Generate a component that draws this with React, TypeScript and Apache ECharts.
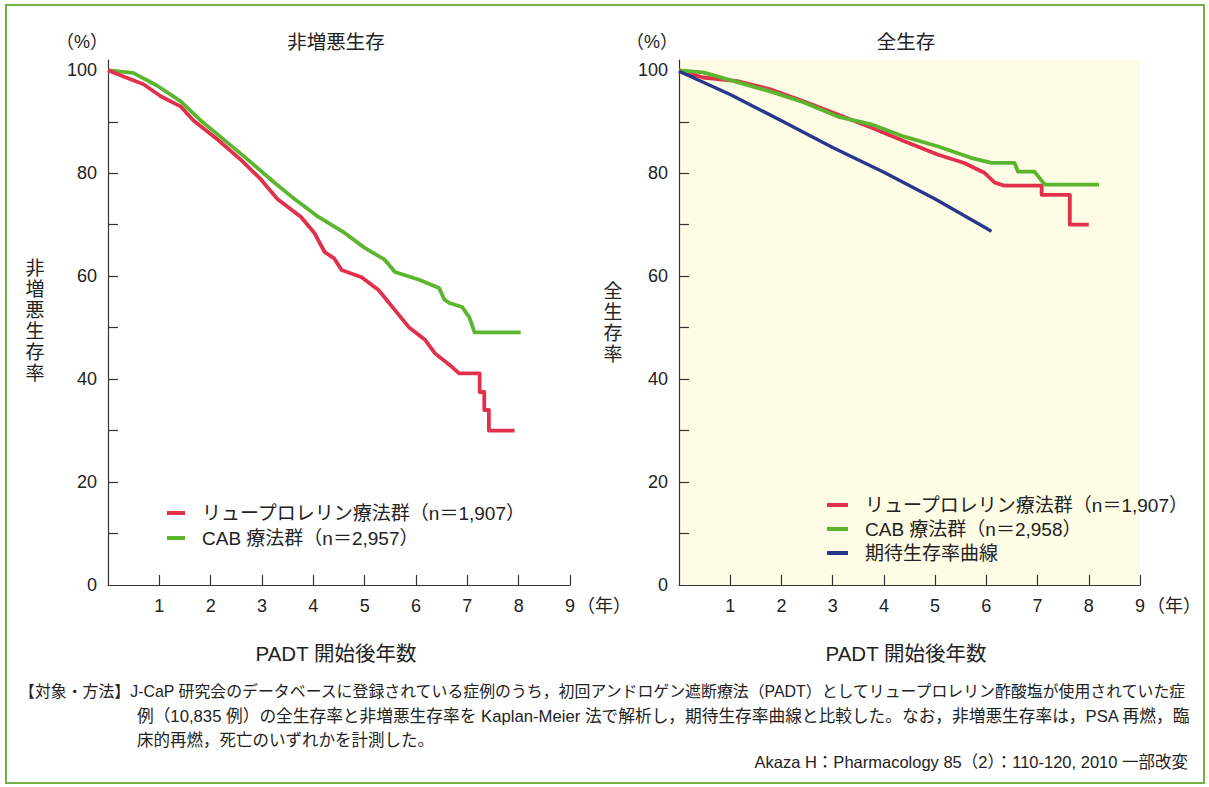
import React, { useEffect, useRef } from "react";
import * as echarts from "echarts";

// ---- data (years, %) ----
const xTicks = [1, 2, 3, 4, 5, 6, 7, 8, 9];
const yLabelValues = [0, 20, 40, 60, 80, 100];
const yTickValues = [10, 20, 30, 40, 50, 60, 70, 80, 90, 100];

const pfsLeuprorelin: [number, number][] = [
  [0, 100], [0.3, 98.8], [0.69, 97.3], [1.02, 95], [1.41, 93], [1.67, 90.2],
  [2.14, 86.5], [2.59, 82.6], [2.98, 78.8], [3.3, 75], [3.76, 71.5], [4.02, 68.4],
  [4.22, 64.7], [4.41, 63.4], [4.55, 61.2], [4.94, 59.8], [5.27, 57.3], [5.59, 53.4],
  [5.86, 50.1], [6.18, 47.6], [6.37, 45], [6.71, 42.3], [6.84, 41.1], [7.24, 41.1],
  [7.24, 37.5], [7.33, 37.5], [7.33, 34], [7.42, 34], [7.42, 30], [7.92, 30],
];
const pfsCab: [number, number][] = [
  [0, 100], [0.49, 99.5], [0.96, 97], [1.41, 94], [1.8, 90.3], [2.14, 87.5],
  [2.73, 82.6], [3.24, 78.2], [3.57, 75.5], [4.1, 71.5], [4.61, 68.4], [5.0, 65.5],
  [5.39, 63.2], [5.59, 60.8], [6.06, 59.3], [6.45, 57.7], [6.55, 55.5], [6.65, 54.8],
  [6.9, 54], [7.04, 52], [7.14, 49.1], [8.04, 49.1],
];
const osLeuprorelin: [number, number][] = [
  [0, 100], [0.47, 98.6], [1.14, 97.9], [1.78, 96.3], [2.43, 94], [3.1, 91.4],
  [3.75, 88.9], [4.4, 86.2], [5.06, 83.6], [5.57, 82], [5.96, 80.1], [6.16, 78.2],
  [6.35, 77.6], [7.08, 77.6], [7.08, 75.8], [7.63, 75.8], [7.63, 70], [8.0, 70],
];
const osCab: [number, number][] = [
  [0, 100], [0.47, 99.6], [1.14, 97.7], [1.78, 95.9], [2.43, 93.8], [3.1, 91],
  [3.75, 89.5], [4.4, 87.1], [5.06, 85.2], [5.7, 83], [6.1, 82], [6.55, 82],
  [6.62, 80.3], [6.94, 80.3], [7.14, 77.8], [8.2, 77.8],
];
const expectedSurvival: [number, number][] = [
  [0, 99.8], [1, 95.3], [2, 90.2], [3, 85], [4, 80.2], [5, 75], [6, 69.3], [6.1, 68.7],
];

const nameLeu = "リュープロレリン療法群（n＝1,907）";
const nameCabL = "CAB 療法群（n＝2,957）";
const nameCabR = "CAB 療法群（n＝2,958）";
const nameExp = "期待生存率曲線";

const RED = "#e1304b";
const GREEN = "#5bb52f";
const BLUE = "#27388c";
const FONT = '"Liberation Sans", "Noto Sans CJK JP", sans-serif';
const AX = "#333333";

function xAxisCfg(gridIndex: number) {
  return {
    type: "value",
    gridIndex,
    min: 0,
    max: 9,
    interval: 1,
    axisLine: { show: true, onZero: false, lineStyle: { color: AX, width: 1.2 } },
    axisTick: { show: true, inside: true, length: 10, customValues: xTicks, lineStyle: { color: AX, width: 1.2 } },
    axisLabel: { customValues: xTicks, margin: 12, fontSize: 18, color: "#222", fontFamily: FONT },
    splitLine: { show: false },
  };
}
function yAxisCfg(gridIndex: number) {
  return {
    type: "value",
    gridIndex,
    min: 0,
    max: 102,
    axisLine: { show: true, lineStyle: { color: AX, width: 1.2 } },
    axisTick: { show: true, inside: true, length: 10, customValues: yTickValues, lineStyle: { color: AX, width: 1.2 } },
    axisLabel: { customValues: yLabelValues, margin: 11, fontSize: 18, color: "#222", fontFamily: FONT },
    splitLine: { show: false },
  };
}
function line(name: string, data: [number, number][], color: string, idx: number, width = 3.8) {
  return {
    type: "line",
    name,
    data,
    xAxisIndex: idx,
    yAxisIndex: idx,
    showSymbol: false,
    symbol: "none",
    color,
    lineStyle: { color, width, join: "round" },
    z: color === BLUE ? 3 : 2,
  };
}
function txt(text: string, x: number, y: number, size: number, align = "center", extra: any = {}) {
  return {
    type: "text",
    x,
    y,
    style: { text, fontSize: size, fontFamily: FONT, fill: "#222", align, verticalAlign: "middle", ...extra },
  };
}

export default function App() {
  const ref = useRef<HTMLDivElement>(null);
  useEffect(() => {
    if (!ref.current) return;
    const chart = echarts.init(ref.current, undefined, { renderer: "svg" });
    const legendText = { fontSize: 19, fontFamily: FONT, color: "#222", padding: [0, 0, 0, 12], lineHeight: 20 };
    chart.setOption({
      animation: false,
      backgroundColor: "#ffffff",
      grid: [
        { left: 108, top: 60, width: 462, height: 525, containLabel: false },
        { left: 679, top: 60, width: 461, height: 525, containLabel: false, show: true, backgroundColor: "#fefce4", borderWidth: 0 },
      ],
      xAxis: [xAxisCfg(0), xAxisCfg(1)],
      yAxis: [yAxisCfg(0), yAxisCfg(1)],
      legend: [
        {
          data: [nameLeu, nameCabL],
          orient: "vertical",
          left: 162,
          top: 498,
          icon: "rect",
          itemWidth: 18,
          itemHeight: 4,
          itemGap: 5,
          selectedMode: false,
          textStyle: legendText,
        },
        {
          data: [nameLeu, nameCabR, nameExp],
          orient: "vertical",
          left: 822,
          top: 490,
          icon: "rect",
          itemWidth: 21,
          itemHeight: 4,
          itemGap: 4,
          selectedMode: false,
          textStyle: legendText,
        },
      ],
      series: [
        line(nameCabL, pfsCab, GREEN, 0),
        line(nameLeu, pfsLeuprorelin, RED, 0),
        line(nameLeu, osLeuprorelin, RED, 1),
        line(nameCabR, osCab, GREEN, 1),
        line(nameExp, expectedSurvival, BLUE, 1, 3.4),
      ],
      graphic: [
        { type: "rect", shape: { x: 6, y: 5, width: 1198, height: 778 }, style: { fill: "none", stroke: "#74b044", lineWidth: 2 }, silent: true },
        txt("（%）", 82, 42, 18),
        txt("（%）", 652, 42, 18),
        txt("非増悪生存", 336, 42, 19.5),
        txt("全生存", 906, 42, 19.5),
        txt("非\n増\n悪\n生\n存\n率", 35, 321, 19, "center", { lineHeight: 21 }),
        txt("全\n生\n存\n率", 613, 323, 19, "center", { lineHeight: 21 }),
        txt("（年）", 577, 606, 18, "left"),
        txt("（年）", 1147, 606, 18, "left"),
        txt("PADT 開始後年数", 336, 653, 20.5),
        txt("PADT 開始後年数", 906, 653, 20.5),
        txt("【対象・方法】J-CaP 研究会のデータベースに登録されている症例のうち，初回アンドロゲン遮断療法（PADT）としてリュープロレリン酢酸塩が使用されていた症", 19, 691, 15.9, "left"),
        txt("例（10,835 例）の全生存率と非増悪生存率を Kaplan-Meier 法で解析し，期待生存率曲線と比較した。なお，非増悪生存率は，PSA 再燃，臨", 137, 716, 16.7, "left"),
        txt("床的再燃，死亡のいずれかを計測した。", 137, 740, 16.5, "left"),
        txt("Akaza H：Pharmacology 85（2）：110-120, 2010 一部改変", 1188, 762, 16.5, "right"),
      ],
    });
    return () => chart.dispose();
  }, []);
  return (
    <div style={{ position: "absolute", left: 0, top: 0, width: 1209, height: 787, background: "#fff" }}>
      <div ref={ref} style={{ width: 1209, height: 787 }} />
    </div>
  );
}
